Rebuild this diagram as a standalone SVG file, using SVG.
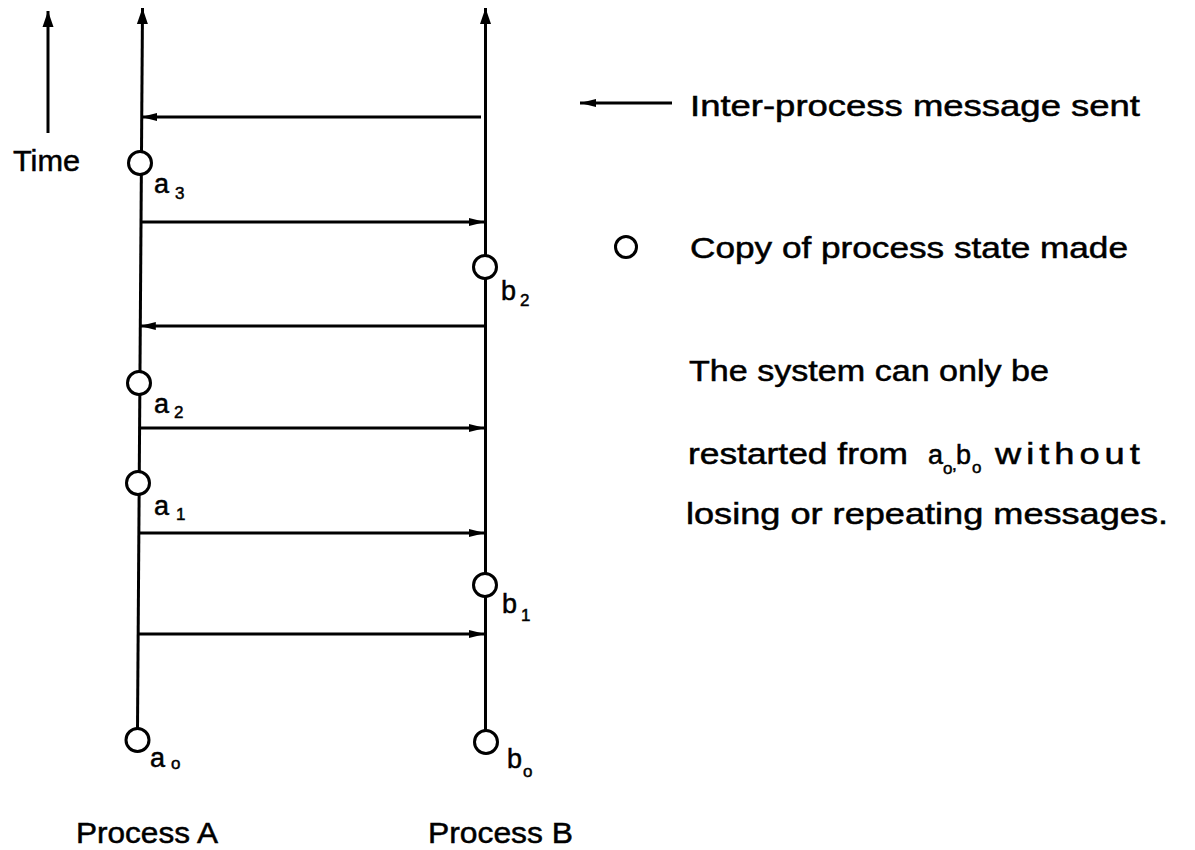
<svg xmlns="http://www.w3.org/2000/svg" width="1195" height="850" viewBox="0 0 1195 850">
  <style>
    .msg { stroke: #000; stroke-width: 3; fill: none; marker-end: url(#head); }
    .up { stroke: #000; stroke-width: 3; fill: none; marker-end: url(#tip); }
    .ckpt { fill: #fff; stroke: #000; stroke-width: 3; }
    .txt { font-family: "Liberation Sans", Arial, sans-serif; fill: #000; stroke: #000; stroke-width: 0.5; }
    .big { font-size: 29px; }
    .lbl { font-size: 27px; }
    .sub { font-size: 17px; }
  </style>
  <defs>
    <marker id="head" viewBox="0 0 16 10" refX="16" refY="5" markerWidth="16" markerHeight="10" markerUnits="userSpaceOnUse" orient="auto">
      <path d="M0,1 L16,5 L0,9 z" fill="#000"/>
    </marker>
    <marker id="tip" viewBox="0 0 16 12" refX="16" refY="6" markerWidth="16" markerHeight="12" markerUnits="userSpaceOnUse" orient="auto">
      <path d="M0,0.5 L16,6 L0,11.5 z" fill="#000"/>
    </marker>
  </defs>

  <!-- time axis -->
  <g id="time-axis">
    <line class="up" x1="48" y1="133" x2="48" y2="11"/>
    <text class="txt big" x="13" y="171" textLength="67" lengthAdjust="spacingAndGlyphs">Time</text>
  </g>

  <!-- process lifelines -->
  <g id="process-a">
    <line class="up" x1="137.5" y1="729" x2="142.5" y2="8"/>
    <text class="txt big" x="76" y="843" textLength="142" lengthAdjust="spacingAndGlyphs">Process A</text>
  </g>
  <g id="process-b">
    <line class="up" x1="485.5" y1="731" x2="485.5" y2="8"/>
    <text class="txt big" x="428" y="843" textLength="145" lengthAdjust="spacingAndGlyphs">Process B</text>
  </g>

  <!-- messages between the processes -->
  <g id="messages">
    <line class="msg" x1="481" y1="117" x2="141.3" y2="117"/>
    <line class="msg" x1="140.5" y1="222" x2="485" y2="222"/>
    <line class="msg" x1="485" y1="326" x2="139.8" y2="326"/>
    <line class="msg" x1="139.1" y1="428" x2="485" y2="428"/>
    <line class="msg" x1="138.4" y1="533" x2="485" y2="533"/>
    <line class="msg" x1="137.7" y1="634" x2="485" y2="634"/>
  </g>

  <!-- saved states on process A -->
  <g id="a3">
    <circle class="ckpt" cx="140" cy="163" r="11.5"/>
    <text class="txt lbl" x="154" y="193">a</text>
    <text class="txt sub" x="175" y="199">3</text>
  </g>
  <g id="a2">
    <circle class="ckpt" cx="139" cy="383" r="11.5"/>
    <text class="txt lbl" x="154" y="413">a</text>
    <text class="txt sub" x="174" y="418">2</text>
  </g>
  <g id="a1">
    <circle class="ckpt" cx="138" cy="483" r="11.5"/>
    <text class="txt lbl" x="154" y="515">a</text>
    <text class="txt sub" x="176" y="520">1</text>
  </g>
  <g id="a0">
    <circle class="ckpt" cx="137.5" cy="740" r="11.5"/>
    <text class="txt lbl" x="150" y="767">a</text>
    <text class="txt sub" x="171" y="769">o</text>
  </g>

  <!-- saved states on process B -->
  <g id="b2">
    <circle class="ckpt" cx="485" cy="267" r="11.5"/>
    <text class="txt lbl" x="501" y="300">b</text>
    <text class="txt sub" x="520" y="306">2</text>
  </g>
  <g id="b1">
    <circle class="ckpt" cx="485" cy="585" r="11.5"/>
    <text class="txt lbl" x="502" y="613">b</text>
    <text class="txt sub" x="521" y="621">1</text>
  </g>
  <g id="b0">
    <circle class="ckpt" cx="486" cy="742" r="11.5"/>
    <text class="txt lbl" x="507" y="768">b</text>
    <text class="txt sub" x="523" y="777">o</text>
  </g>

  <!-- key -->
  <g id="key-message">
    <line class="msg" x1="672" y1="103" x2="580" y2="103"/>
    <text class="txt big" x="690" y="116" textLength="450" lengthAdjust="spacingAndGlyphs">Inter-process message sent</text>
  </g>
  <g id="key-state">
    <circle class="ckpt" cx="626" cy="247" r="10.5"/>
    <text class="txt big" x="690" y="258" textLength="438" lengthAdjust="spacingAndGlyphs">Copy of process state made</text>
  </g>

  <!-- note -->
  <g id="note">
    <text class="txt big" x="689" y="381" textLength="360" lengthAdjust="spacingAndGlyphs">The system can only be</text>
    <text class="txt big" x="688" y="464" textLength="220" lengthAdjust="spacingAndGlyphs">restarted from</text>
    <text class="txt lbl" x="928" y="464">a</text>
    <text class="txt sub" x="943" y="474">o</text>
    <text class="txt sub" x="952" y="470">,</text>
    <text class="txt lbl" x="956" y="464">b</text>
    <text class="txt sub" x="972" y="473">o</text>
    <text class="txt big" transform="translate(995,464) scale(1.25,1)" x="0" y="0" style="letter-spacing:4px">without</text>
    <text class="txt big" x="686" y="524" textLength="482" lengthAdjust="spacingAndGlyphs">losing or repeating messages.</text>
  </g>
</svg>
